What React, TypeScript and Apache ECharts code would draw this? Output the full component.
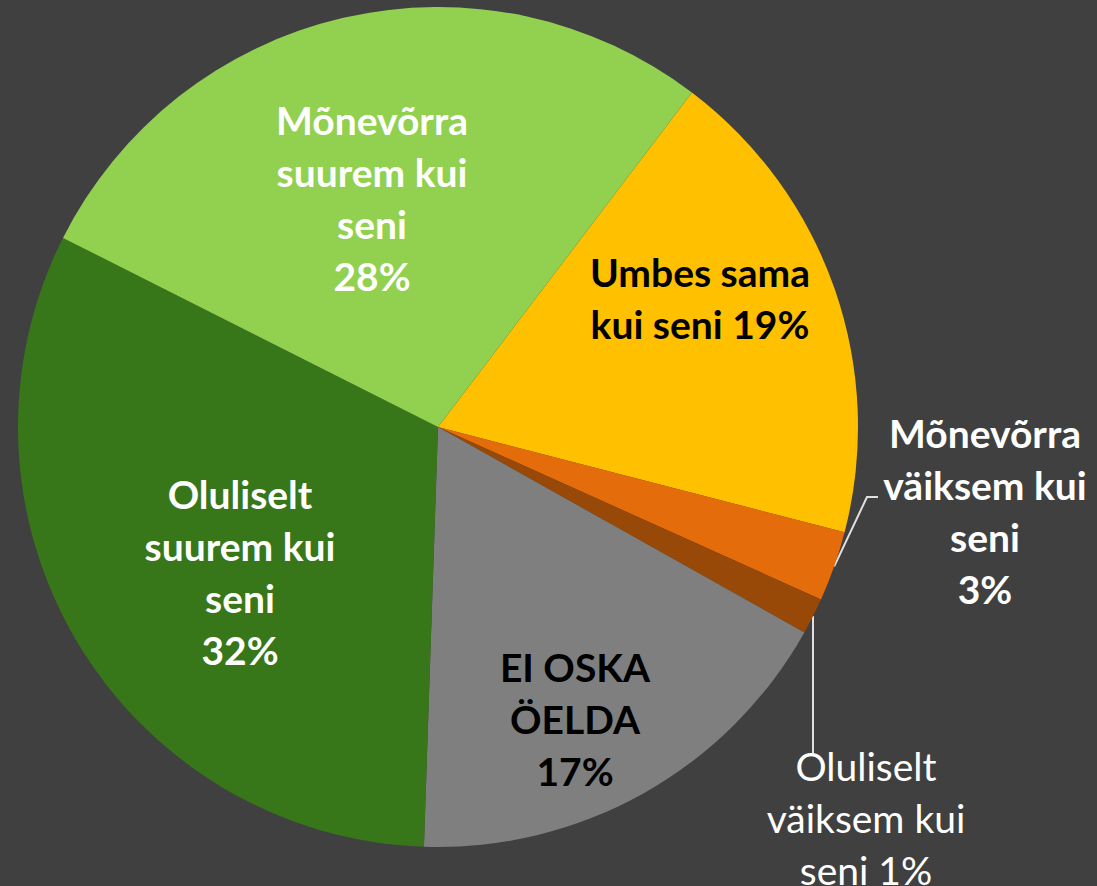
import React, { useEffect, useRef } from "react";
import * as echarts from "echarts";

// Slices in clockwise order, starting from the yellow slice
const names = [
  "Umbes sama kui seni",
  "Mõnevõrra väiksem kui seni",
  "Oluliselt väiksem kui seni",
  "EI OSKA ÖELDA",
  "Oluliselt suurem kui seni",
  "Mõnevõrra suurem kui seni",
];
const values = [18.7, 2.7, 1.4, 17.4, 31.9, 27.9];
const labelTemplates = [
  "Umbes sama\nkui seni {p}%",
  "Mõnevõrra\nväiksem kui\nseni\n{p}%",
  "Oluliselt\nväiksem kui\nseni {p}%",
  "EI OSKA\nÖELDA\n{p}%",
  "Oluliselt\nsuurem kui\nseni\n{p}%",
  "Mõnevõrra\nsuurem kui\nseni\n{p}%",
];
const colors = ["#FFC000", "#E46C0A", "#984807", "#7F7F7F", "#38761A", "#92D050"];

// label styling / placement
const labelColors = ["#000000", "#FFFFFF", "#FFFFFF", "#000000", "#FFFFFF", "#FFFFFF"];
const labelWeights = ["bold", "bold", "normal", "bold", "bold", "bold"];
const labelOutside = [false, true, true, false, false, false];
const labelCenters: number[][] = [
  [700, 298],
  [985, 511],
  [866, 818],
  [575, 719],
  [240, 572],
  [372, 198],
];

export default function App() {
  const ref = useRef<HTMLDivElement>(null);
  useEffect(() => {
    if (!ref.current) return;
    const chart = echarts.init(ref.current, undefined, { renderer: "svg" });
    const FONT = "Lato, 'Noto Sans', sans-serif";
    chart.setOption({
      animation: false,
      backgroundColor: "#404040",
      series: [
        {
          type: "pie",
          center: [438, 427],
          radius: 420,
          startAngle: 52.8,
          clockwise: true,
          percentPrecision: 0,
          avoidLabelOverlap: false,
          itemStyle: { borderWidth: 0 },
          emphasis: { disabled: true },
          data: values.map((v, i) => ({
            name: names[i],
            value: v,
            itemStyle: { color: colors[i] },
            label: {
              show: true,
              position: labelOutside[i] ? "outside" : "inside",
              color: labelColors[i],
              fontWeight: labelWeights[i],
              fontFamily: FONT,
              fontSize: 39,
              lineHeight: 52,
              align: "center",
              formatter: (p: any) => labelTemplates[p.dataIndex].replace("{p}", String(p.percent)),
            },
            labelLine: {
              show: labelOutside[i],
              lineStyle: { color: "#E0E0E0", width: 2 },
            },
          })),
        },
      ],
    });
    chart.setOption({
      series: [
        {
          labelLayout: (params: any) => {
            const i = params.dataIndex;
            const res: any = {
              x: labelCenters[i][0],
              y: labelCenters[i][1],
              align: "center",
              verticalAlign: "middle",
            };
            const lp = params.labelLinePoints;
            if (labelOutside[i] && lp && lp.length) {
              const s = lp[0];
              if (i === 1) {
                res.labelLinePoints = [s, [867, 497], [878, 497]];
              } else {
                res.labelLinePoints = [s, [s[0], 700], [s[0], 753]];
              }
            }
            return res;
          },
        },
      ],
    });
    return () => chart.dispose();
  }, []);
  return (
    <div
      ref={ref}
      style={{ position: "fixed", left: 0, top: 0, width: 1097, height: 886 }}
    />
  );
}
